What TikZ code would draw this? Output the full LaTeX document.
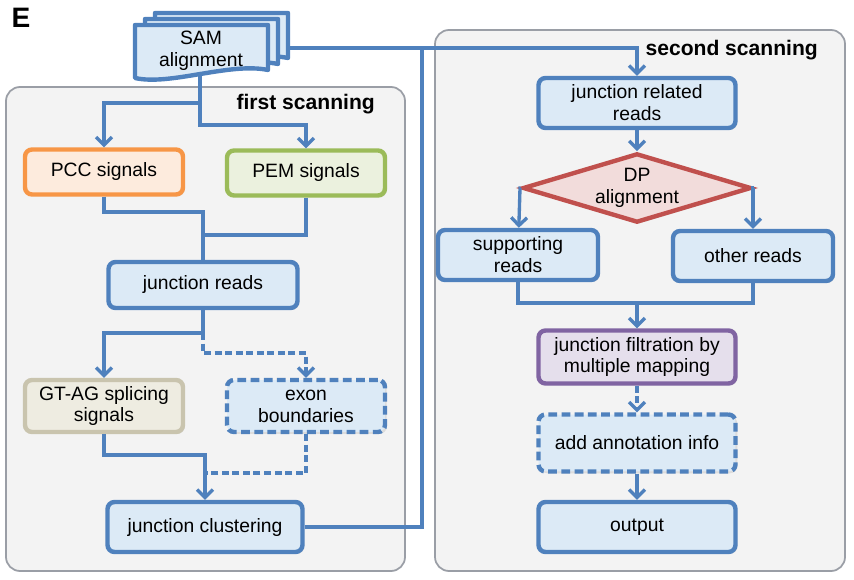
\documentclass[tikz,border=0pt]{standalone}
\usepackage{fontspec}
\setmainfont{Liberation Sans}
\usetikzlibrary{arrows.meta,shapes.geometric,shadows}

\definecolor{lineblue}{HTML}{4F81BD}
\definecolor{boxblue}{HTML}{DCEAF6}
\definecolor{panelgray}{HTML}{F3F3F3}
\definecolor{panelline}{HTML}{9A9EA6}
\definecolor{pccline}{HTML}{F79646}
\definecolor{pccfill}{HTML}{FDEBDD}
\definecolor{pemline}{HTML}{9BBB59}
\definecolor{pemfill}{HTML}{EBF1DE}
\definecolor{gtline}{HTML}{C9C4AE}
\definecolor{gtfill}{HTML}{EEECE1}
\definecolor{dpline}{HTML}{C0504D}
\definecolor{dpfill}{HTML}{F2DCDB}
\definecolor{filtline}{HTML}{8064A2}
\definecolor{filtfill}{HTML}{E5DFEC}

\begin{document}
\begin{tikzpicture}[x=0.02cm, y=-0.02cm,
        font=\fontsize{11}{12.5}\selectfont,
        panel/.style={draw=panelline, fill=panelgray, line width=1pt, rounded corners=8pt},
        box/.style={draw=lineblue, fill=boxblue, line width=2.5pt, rounded corners=4pt,
            align=center, inner sep=2pt, minimum width=3.94cm, minimum height=1cm,
            drop shadow={opacity=0.2, shadow xshift=1pt, shadow yshift=-1pt}},
        dashbox/.style={box, dash pattern=on 5pt off 2.5pt},
        conn/.style={draw=lineblue, line width=1.9pt},
        arr/.style={conn, -{Straight Barb[length=4.5pt,width=9pt]}},
        darr/.style={arr, dash pattern=on 4pt off 2pt},
        title/.style={font=\fontsize{12}{14}\selectfont\bfseries, anchor=east}]
    \useasboundingbox (0,0) rectangle (854,580);
    \node[font=\fontsize{16}{18}\selectfont\bfseries] (lab) at (21,18) {E};

    \draw[panel] (6,87)  rectangle (405,571);
    \draw[panel] (435,30) rectangle (845,571);
    \node[title] (first)  at (381,104) {first scanning};
    \node[title] (second) at (824,50)  {second scanning};

    % SAM alignment, stacked documents
    \foreach \d in {2,1}
        \draw[draw=lineblue, fill=boxblue, line width=2.5pt, line join=round, shift={(10*\d,-6*\d)}]
            (135,25) -- (268,25) -- (268,70) .. controls (230,62) and (170,86) .. (135,78) -- cycle;
    \draw[draw=lineblue, fill=boxblue, line width=2.5pt, line join=round]
        (135,25) -- (268,25) -- (268,70) .. controls (230,62) and (170,86) .. (135,78) -- cycle;
    \node[align=center] (sam) at (201,51) {SAM\\alignment};
    \coordinate (samb) at (200,76);
    \coordinate (samr) at (289,48);

    % first scanning
    \node[box, draw=pccline, fill=pccfill, minimum width=3.16cm, minimum height=0.9cm] (pcc) at (104,172) {PCC signals};
    \node[box, draw=pemline, fill=pemfill, minimum width=3.16cm, minimum height=0.9cm] (pem) at (306,173) {PEM signals};
    \node[box, minimum width=3.78cm, minimum height=0.92cm] (jr) at (203,285) {junction reads};
    \node[box, draw=gtline, fill=gtfill, minimum width=3.16cm, minimum height=1.04cm] (gt) at (104,406) {GT-AG splicing\\signals};
    \node[dashbox, minimum width=3.16cm, minimum height=1.04cm] (exon) at (306,406) {exon\\boundaries};
    \node[box, minimum width=3.9cm] (jc) at (205,527) {junction clustering};

    % second scanning
    \node[box] (jrr) at (637,103) {junction related\\reads};
    \node[draw=dpline, fill=dpfill, line width=2.5pt, shape=diamond, aspect=3.3, inner sep=1pt,
        minimum width=4.36cm, minimum height=1.3cm, align=center,
        drop shadow={opacity=0.2, shadow xshift=1pt, shadow yshift=-1pt}] (dp) at (637,188) {DP\\alignment};
    \node[box, minimum width=3.2cm] (sup) at (518,255) {supporting\\reads};
    \node[box, minimum width=3.2cm] (oth) at (753,256) {other reads};
    \node[box, draw=filtline, fill=filtfill, minimum height=1.06cm] (filt) at (637,357) {junction filtration by\\multiple mapping};
    \node[dashbox, minimum height=1.14cm] (ann) at (637,443) {add annotation info};
    \node[box] (out) at (637,527) {output};

    % connectors
    \coordinate (s1) at (200,103);
    \coordinate (s2) at (200,125);
    \coordinate (m1) at (203,212);
    \coordinate (m2) at (203,235);
    \coordinate (s3) at (203,333);
    \coordinate (s4) at (203,353);
    \coordinate (m3) at (205,455);
    \coordinate (m4) at (205,473);
    \coordinate (up) at (422,48);
    \coordinate (tl) at (520,188);
    \coordinate (tr) at (753,188);
    \coordinate (m5) at (637,303);

    \draw[arr]  (samb) -- (s1) -| (pcc);
    \draw[arr]  (s1) -- (s2) -| (pem);
    \draw[conn] (pcc) |- (m1) -- (jr);
    \draw[conn] (pem) |- (m2);
    \draw[arr]  (jr) -- (s3) -| (gt);
    \draw[darr] (s3) -- (s4) -| (exon);
    \draw[arr]  (gt) |- (m3) -- (jc);
    \draw[conn, dash pattern=on 4pt off 2pt] (exon) |- (m4);
    \draw[conn] (jc) -| (up);
    \draw[arr]  (samr) -| (jrr);
    \draw[arr]  (jrr) -- (dp);
    \draw[arr]  (dp.west) -- (tl) -- (sup);
    \draw[arr]  (dp.east) -- (tr) -- (oth);
    \draw[conn] (sup) |- (m5) -| (oth);
    \draw[arr]  (m5) -- (filt);
    \draw[darr] (filt) -- (ann);
    \draw[arr]  (ann) -- (out);
\end{tikzpicture}
\end{document}
